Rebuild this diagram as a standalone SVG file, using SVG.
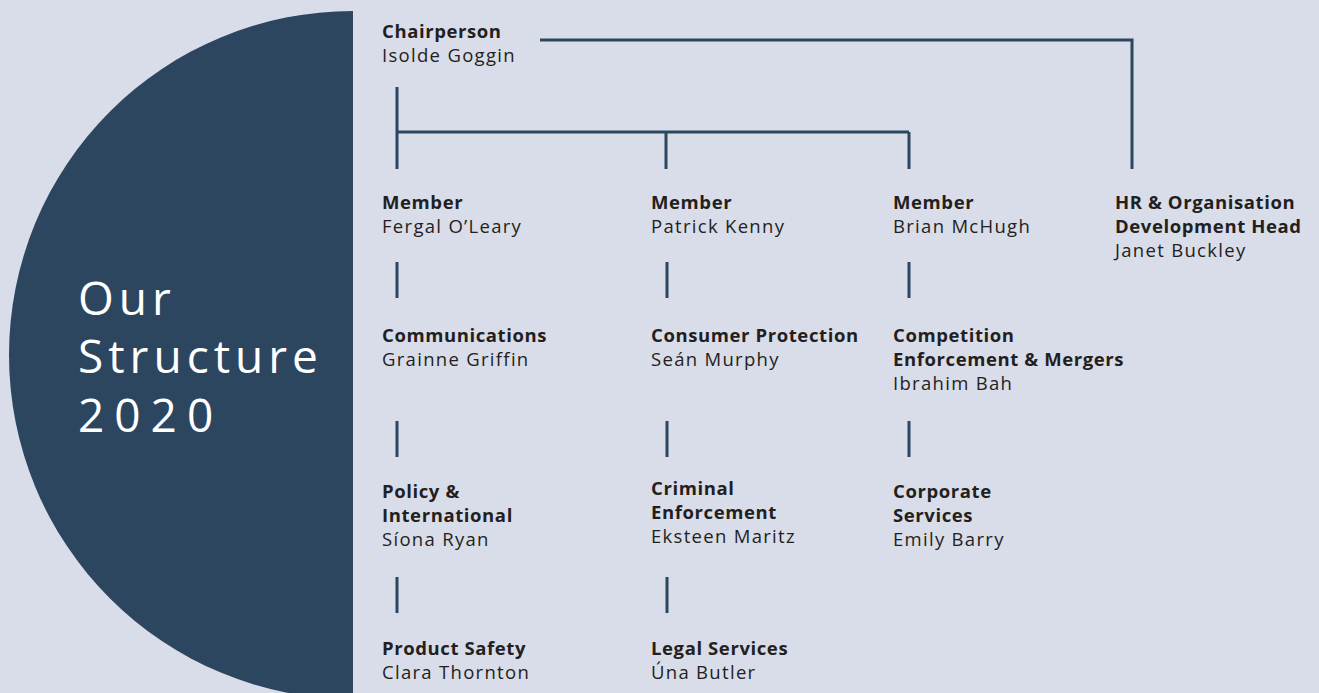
<svg xmlns="http://www.w3.org/2000/svg" width="1319" height="693" viewBox="0 0 1319 693">
<style>
.t{font-family:"Open Sans","Lato",sans-serif;font-size:18.5px;fill:#231f20;letter-spacing:1.3px}
.b{font-weight:700;letter-spacing:0.6px}
.title{font-family:"Open Sans","Lato",sans-serif;font-size:46px;fill:#ffffff;font-weight:500;letter-spacing:5px}
.ln{stroke:#2d4660;stroke-width:3;fill:none}
</style>
<defs>
<clipPath id="half"><rect x="0" y="0" width="353" height="693"/></clipPath>
</defs>
<rect width="1319" height="693" fill="#d9dce9"/>
<g id="banner">
<circle cx="353" cy="355" r="344" fill="#2d4660" clip-path="url(#half)"/>
<text class="title" x="78" y="315">Our</text>
<text class="title" x="78" y="373">Structure</text>
<text class="title" x="78" y="432" style="letter-spacing:10px">2020</text>
</g>
<g id="connectors">
<polyline class="ln" points="540,40 1132,40 1132,169"/>
<line class="ln" x1="397" y1="87" x2="397" y2="169"/>
<line class="ln" x1="397" y1="132" x2="909" y2="132"/>
<line class="ln" x1="666" y1="132" x2="666" y2="169"/>
<line class="ln" x1="909" y1="132" x2="909" y2="169"/>
<line class="ln" x1="397" y1="262" x2="397" y2="298"/>
<line class="ln" x1="667" y1="262" x2="667" y2="298"/>
<line class="ln" x1="909" y1="262" x2="909" y2="298"/>
<line class="ln" x1="397" y1="421" x2="397" y2="457"/>
<line class="ln" x1="667" y1="421" x2="667" y2="457"/>
<line class="ln" x1="909" y1="421" x2="909" y2="457"/>
<line class="ln" x1="397" y1="577" x2="397" y2="613"/>
<line class="ln" x1="667" y1="577" x2="667" y2="613"/>
</g>
<g id="chair"><text class="t b" x="382" y="38">Chairperson</text><text class="t" x="382" y="62">Isolde Goggin</text></g>
<g id="member1"><text class="t b" x="382" y="209">Member</text><text class="t" x="382" y="233">Fergal O’Leary</text></g>
<g id="member2"><text class="t b" x="651" y="209">Member</text><text class="t" x="651" y="233">Patrick Kenny</text></g>
<g id="member3"><text class="t b" x="893" y="209">Member</text><text class="t" x="893" y="233">Brian McHugh</text></g>
<g id="hr"><text class="t b" x="1115" y="209">HR &amp; Organisation</text><text class="t b" x="1115" y="233">Development Head</text><text class="t" x="1115" y="257">Janet Buckley</text></g>
<g id="comms"><text class="t b" x="382" y="342">Communications</text><text class="t" x="382" y="366">Grainne Griffin</text></g>
<g id="consumer"><text class="t b" x="651" y="342">Consumer Protection</text><text class="t" x="651" y="366">Seán Murphy</text></g>
<g id="competition"><text class="t b" x="893" y="342">Competition</text><text class="t b" x="893" y="366">Enforcement &amp; Mergers</text><text class="t" x="893" y="390">Ibrahim Bah</text></g>
<g id="policy"><text class="t b" x="382" y="498">Policy &amp;</text><text class="t b" x="382" y="522">International</text><text class="t" x="382" y="546">Síona Ryan</text></g>
<g id="criminal"><text class="t b" x="651" y="495">Criminal</text><text class="t b" x="651" y="519">Enforcement</text><text class="t" x="651" y="543">Eksteen Maritz</text></g>
<g id="corporate"><text class="t b" x="893" y="498">Corporate</text><text class="t b" x="893" y="522">Services</text><text class="t" x="893" y="546">Emily Barry</text></g>
<g id="product"><text class="t b" x="382" y="655">Product Safety</text><text class="t" x="382" y="679">Clara Thornton</text></g>
<g id="legal"><text class="t b" x="651" y="655">Legal Services</text><text class="t" x="651" y="679">Úna Butler</text></g>
</svg>
